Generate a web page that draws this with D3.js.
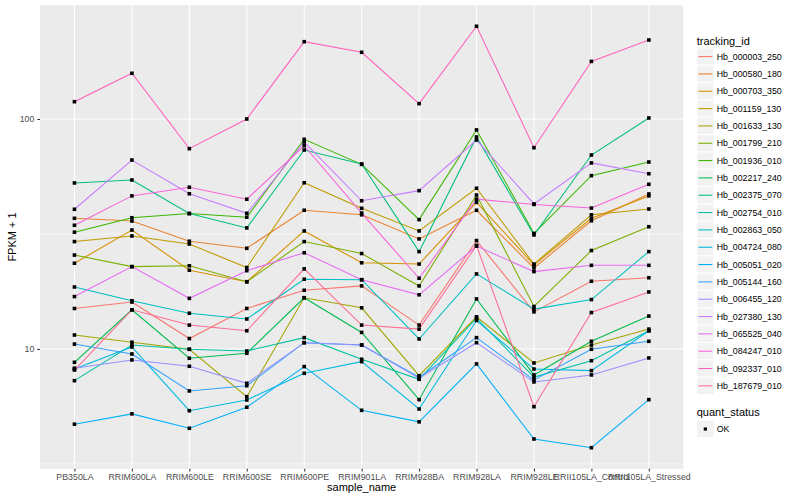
<!DOCTYPE html>
<html>
<head>
<meta charset="utf-8">
<script src="https://cdn.jsdelivr.net/npm/d3@7"></script>
<style>
  body { margin: 0; background: #fff; }
  svg { font-family: "Liberation Sans", Arial, Helvetica, sans-serif; }
</style>
</head>
<body>
<div id="chart"></div>
<script>
const samples = ['PB350LA', 'RRIM600LA', 'RRIM600LE', 'RRIM600SE', 'RRIM600PE', 'RRIM901LA',
  'RRIM928BA', 'RRIM928LA', 'RRIM928LE', 'RRII105LA_Control', 'RRII105LA_Stressed']

const trackingIds = ['Hb_000003_250', 'Hb_000580_180', 'Hb_000703_350', 'Hb_001159_130',
  'Hb_001633_130', 'Hb_001799_210', 'Hb_001936_010', 'Hb_002217_240', 'Hb_002375_070',
  'Hb_002754_010', 'Hb_002863_050', 'Hb_004724_080', 'Hb_005051_020', 'Hb_005144_160',
  'Hb_006455_120', 'Hb_027380_130', 'Hb_065525_040', 'Hb_084247_010', 'Hb_092337_010',
  'Hb_187679_010']

// FPKM + 1, one value per sample
const hb000003 = [15.0, 16.0, 11.1, 15.0, 18.0, 18.8, 12.7, 29.6, 14.5, 19.7, 20.4]
const hb000580 = [37.0, 36.0, 29.4, 27.4, 40.1, 38.3, 30.1, 40.1, 22.5, 36.1, 47.2]
const hb000703 = [23.6, 32.9, 22.0, 19.6, 32.6, 23.7, 23.4, 43.4, 23.2, 37.0, 46.3]
const hb001159 = [29.3, 31.0, 28.6, 22.6, 52.8, 40.9, 32.6, 50.0, 23.4, 38.3, 40.6]
const hb001633 = [11.5, 10.7, 9.97, 6.20, 16.7, 15.1, 7.65, 13.8, 8.69, 10.4, 12.2]
const hb001799 = [25.6, 22.8, 23.0, 19.6, 29.3, 26.0, 18.8, 46.7, 15.3, 26.8, 34.0]
const hb001936 = [32.2, 37.2, 38.8, 37.4, 81.6, 63.5, 36.5, 89.6, 31.8, 56.7, 65.0]
const hb002217 = [8.75, 14.8, 9.11, 9.58, 16.7, 11.8, 6.02, 16.5, 7.71, 10.8, 13.9]
const hb002375 = [52.7, 54.3, 38.8, 33.6, 73.3, 63.7, 26.5, 83.5, 31.3, 69.7, 101]
const hb002754 = [7.28, 10.4, 9.97, 9.80, 11.2, 9.02, 7.38, 13.6, 7.55, 8.89, 12.0]
const hb002863 = [18.6, 16.2, 14.3, 13.5, 20.1, 20.0, 11.05, 21.2, 14.9, 16.4, 26.5]
const hb004724 = [8.18, 10.2, 5.39, 6.00, 7.84, 8.81, 5.48, 13.3, 8.18, 8.05, 12.0]
const hb005051 = [4.71, 5.22, 4.52, 5.58, 8.38, 5.41, 4.82, 8.61, 4.06, 3.72, 6.02]
const hb005144 = [10.5, 9.51, 6.57, 6.92, 10.65, 10.4, 7.53, 11.2, 7.33, 9.97, 10.8]
const hb006455 = [8.25, 8.96, 8.41, 7.09, 10.65, 10.4, 7.46, 10.65, 7.19, 7.71, 9.14]
const hb027380 = [40.5, 66.3, 47.3, 38.9, 79.4, 44.1, 48.8, 81.0, 42.7, 64.4, 57.8]
const hb065525 = [16.9, 22.8, 16.6, 21.9, 26.2, 20.0, 17.2, 28.0, 21.7, 23.1, 23.1]
const hb084247 = [34.5, 46.3, 50.5, 44.8, 76.5, 39.0, 20.3, 44.8, 42.5, 41.0, 52.0]
const hb092337 = [118.9, 158, 74.3, 100, 216.8, 195, 116.6, 253, 75.0, 178, 220.5]
const hb187679 = [8.10, 14.8, 12.7, 12.0, 22.3, 12.7, 12.2, 28.2, 5.61, 14.4, 17.7]

const seriesValues = [hb000003, hb000580, hb000703, hb001159, hb001633, hb001799, hb001936,
  hb002217, hb002375, hb002754, hb002863, hb004724, hb005051, hb005144, hb006455, hb027380,
  hb065525, hb084247, hb092337, hb187679]

const quantStatus = ['OK']

// ggplot hue palette for 20 levels
const palette = ['#F8766D', '#EA8331', '#D89000', '#C09B00', '#A3A500', '#7CAE00', '#39B600',
  '#00BB4E', '#00BF7D', '#00C1A3', '#00BFC4', '#00BAE0', '#00B0F6', '#35A2FF', '#9590FF',
  '#C77CFF', '#E76BF3', '#FA62DB', '#FF62BC', '#FF6C91']

const series = trackingIds.map((id, i) => ({
  id,
  color: palette[i],
  points: samples.map((s, j) => ({ sample: s, value: seriesValues[i][j] }))
}))

const width = 800
const height = 500
const margin = { top: 5.2, right: 116.7, bottom: 31.2, left: 40 }

const svg = d3.select('#chart')
  .append('svg')
  .attr('width', width)
  .attr('height', height)

const x = d3.scalePoint()
  .domain(samples)
  .range([margin.left, width - margin.right])
  .padding(0.6)

// log scale with ggplot's 5% expansion in log space
const [lo, hi] = d3.extent(seriesValues.flat()).map(Math.log10)
const pad = (hi - lo) * 0.05
const y = d3.scaleLog()
  .domain([10 ** (lo - pad), 10 ** (hi + pad)])
  .range([height - margin.bottom, margin.top])

const pTop = margin.top
const pBottom = height - margin.bottom
const pLeft = margin.left
const pRight = width - margin.right

svg.append('rect')
  .attr('x', pLeft).attr('y', pTop)
  .attr('width', pRight - pLeft).attr('height', pBottom - pTop)
  .attr('fill', '#EBEBEB')

const grid = svg.append('g').attr('stroke', '#fff').attr('fill', 'none')
const [d0, d1] = y.domain()
grid.selectAll('.minor')
  .data([10 ** 0.5, 10 ** 1.5, 10 ** 2.5].filter(v => v >= d0 && v <= d1))
  .join('line')
  .attr('class', 'minor')
  .attr('x1', pLeft).attr('x2', pRight)
  .attr('y1', d => y(d)).attr('y2', d => y(d))
  .attr('stroke-width', 0.53)
grid.selectAll('.major')
  .data([10, 100])
  .join('line')
  .attr('class', 'major')
  .attr('x1', pLeft).attr('x2', pRight)
  .attr('y1', d => y(d)).attr('y2', d => y(d))
  .attr('stroke-width', 1.07)
grid.selectAll('.vert')
  .data(samples)
  .join('line')
  .attr('class', 'vert')
  .attr('x1', d => x(d)).attr('x2', d => x(d))
  .attr('y1', pTop).attr('y2', pBottom)
  .attr('stroke-width', 1.07)

const line = d3.line()
  .x(d => x(d.sample))
  .y(d => y(d.value))

svg.append('g')
  .selectAll('path')
  .data(series)
  .join('path')
  .attr('d', d => line(d.points))
  .attr('fill', 'none')
  .attr('stroke', d => d.color)
  .attr('stroke-width', 1.07)

const pt = 3.6
svg.append('g')
  .selectAll('rect')
  .data(series.flatMap(s => s.points))
  .join('rect')
  .attr('x', d => x(d.sample) - pt / 2)
  .attr('y', d => y(d.value) - pt / 2)
  .attr('width', pt)
  .attr('height', pt)
  .attr('fill', '#000')

// axes
const yAxis = svg.append('g')
  .attr('transform', `translate(${pLeft},0)`)
  .call(d3.axisLeft(y).tickValues([10, 100]).tickFormat(d3.format('d')).tickSize(2.7).tickPadding(3))
const xAxis = svg.append('g')
  .attr('transform', `translate(0,${pBottom})`)
  .call(d3.axisBottom(x).tickSize(2.7).tickPadding(2.2))

;[xAxis, yAxis].forEach(a => {
  a.select('.domain').remove()
  a.selectAll('.tick line').attr('stroke', '#333333').attr('stroke-width', 1.07)
  a.selectAll('.tick text')
    .attr('fill', '#4D4D4D')
    .style('font-size', '8.8px')
    .style('font-family', '"Liberation Sans", Arial, sans-serif')
})

svg.append('text')
  .attr('x', (pLeft + pRight) / 2)
  .attr('y', 490.5)
  .attr('text-anchor', 'middle')
  .style('font-size', '11px')
  .text('sample_name')

svg.append('text')
  .attr('transform', `translate(15.5,${(pTop + pBottom) / 2}) rotate(-90)`)
  .attr('text-anchor', 'middle')
  .style('font-size', '11px')
  .text('FPKM + 1')

// legend: tracking_id
const lx = 696.7
const key = 17.3
const legend = svg.append('g')
legend.append('text')
  .attr('x', lx).attr('y', 44.5)
  .style('font-size', '11px')
  .text('tracking_id')

const rowY = i => 56.6 + i * 17.33
const rows = legend.selectAll('.row')
  .data(series)
  .join('g')
  .attr('class', 'row')
  .attr('transform', (d, i) => `translate(${lx},${rowY(i)})`)
rows.append('rect')
  .attr('x', 0).attr('y', -key / 2)
  .attr('width', key).attr('height', key)
  .attr('fill', '#F2F2F2')
  .attr('stroke', '#fff')
rows.append('line')
  .attr('x1', 1.7).attr('x2', key - 1.7)
  .attr('stroke', d => d.color)
  .attr('stroke-width', 1.07)
rows.append('text')
  .attr('x', 20)
  .attr('dy', '0.35em')
  .style('font-size', '8.8px')
  .text(d => d.id)

// legend: quant_status
legend.append('text')
  .attr('x', lx).attr('y', 416)
  .style('font-size', '11px')
  .text('quant_status')
const q = legend.selectAll('.q')
  .data(quantStatus)
  .join('g')
  .attr('class', 'q')
  .attr('transform', (d, i) => `translate(${lx},${429 + i * 17.33})`)
q.append('rect')
  .attr('x', 0).attr('y', -key / 2)
  .attr('width', key).attr('height', key)
  .attr('fill', '#F2F2F2')
  .attr('stroke', '#fff')
q.append('rect')
  .attr('x', key / 2 - 1.6).attr('y', -1.6)
  .attr('width', 3.2).attr('height', 3.2)
  .attr('fill', '#000')
q.append('text')
  .attr('x', 20)
  .attr('dy', '0.35em')
  .style('font-size', '8.8px')
  .text(d => d)
</script>
</body>
</html>
